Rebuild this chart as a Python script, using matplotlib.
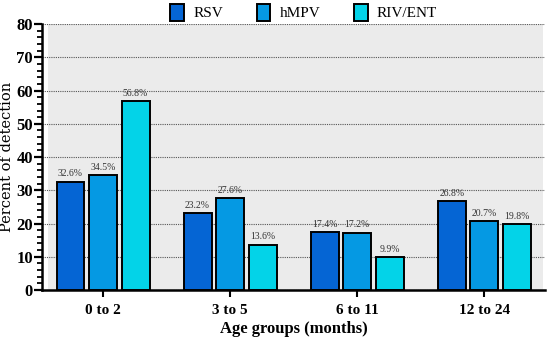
import matplotlib
matplotlib.use("Agg")
import matplotlib.pyplot as plt
import numpy as np
from matplotlib.patches import Rectangle
from matplotlib.ticker import MultipleLocator

groups = ["0 to 2", "3 to 5", "6 to 11", "12 to 24"]
series = ["RSV", "hMPV", "RIV/ENT"]
rsv = [32.6, 23.2, 17.4, 26.8]
hmpv = [34.5, 27.6, 17.2, 20.7]
riv = [56.8, 13.6, 9.9, 19.8]
colors = ["#0565d4", "#0599e3", "#03d3e8"]

plt.rcParams['font.family'] = ['Liberation Serif', 'DejaVu Serif']

fig = plt.figure(figsize=(5.5, 3.44), dpi=100)
ax = fig.add_axes([0.0764, 0.157, 0.915, 0.773])
ax.set_facecolor("white")
ax.add_patch(Rectangle((0.012, 0), 0.983, 1, transform=ax.transAxes,
                       facecolor="#ebebeb", edgecolor="none", zorder=0))

x = np.arange(len(groups))
step = 0.256
width = 0.22
for i, (vals, name) in enumerate(zip([rsv, hmpv, riv], series)):
    pos = x + (i - 1) * step
    bars = ax.bar(pos, vals, width, color=colors[i], edgecolor="black",
                  linewidth=1.4, label=name, zorder=3)
    for b, v in zip(bars, vals):
        ax.text(b.get_x() + b.get_width() / 2, v + 1.0, f"{v:.1f}%",
                ha="center", va="bottom", fontsize=7, color="#333333", zorder=4)

ax.set_xlim(-0.48, 3.48)
ax.set_ylim(0, 80)
ax.yaxis.set_major_locator(MultipleLocator(10))
ax.yaxis.set_minor_locator(MultipleLocator(2))
ax.grid(axis="y", which="major", linestyle=(0, (1, 1)), color="#555555",
        linewidth=0.8, zorder=1)
ax.set_axisbelow(True)

for s in ["top", "right"]:
    ax.spines[s].set_visible(False)
ax.spines["left"].set_linewidth(1.8)
ax.spines["bottom"].set_linewidth(1.8)

ax.set_xticks(x)
ax.set_xticklabels(groups, fontsize=11, fontweight="bold")
ax.tick_params(axis="x", length=5, width=1.5, pad=5)
ax.tick_params(axis="y", which="major", length=6, width=1.6, labelsize=12, pad=0.5)
ax.tick_params(axis="y", which="minor", length=3.5, width=1.3)
for lab in ax.get_yticklabels():
    lab.set_fontweight("bold")

ax.set_ylabel("Percent of detection", fontsize=10.5, family=["DejaVu Serif"])
ax.yaxis.set_label_coords(-0.056, 0.5)
ax.set_xlabel("Age groups (months)", fontsize=12, fontweight="bold", labelpad=3)

leg = ax.legend(loc="lower center", bbox_to_anchor=(0.52, 0.99), ncol=3,
                frameon=False, fontsize=11, handlelength=0.9, handleheight=1.3,
                columnspacing=2.2, handletextpad=0.6, borderaxespad=0)

fig.savefig("out.png", dpi=100)
